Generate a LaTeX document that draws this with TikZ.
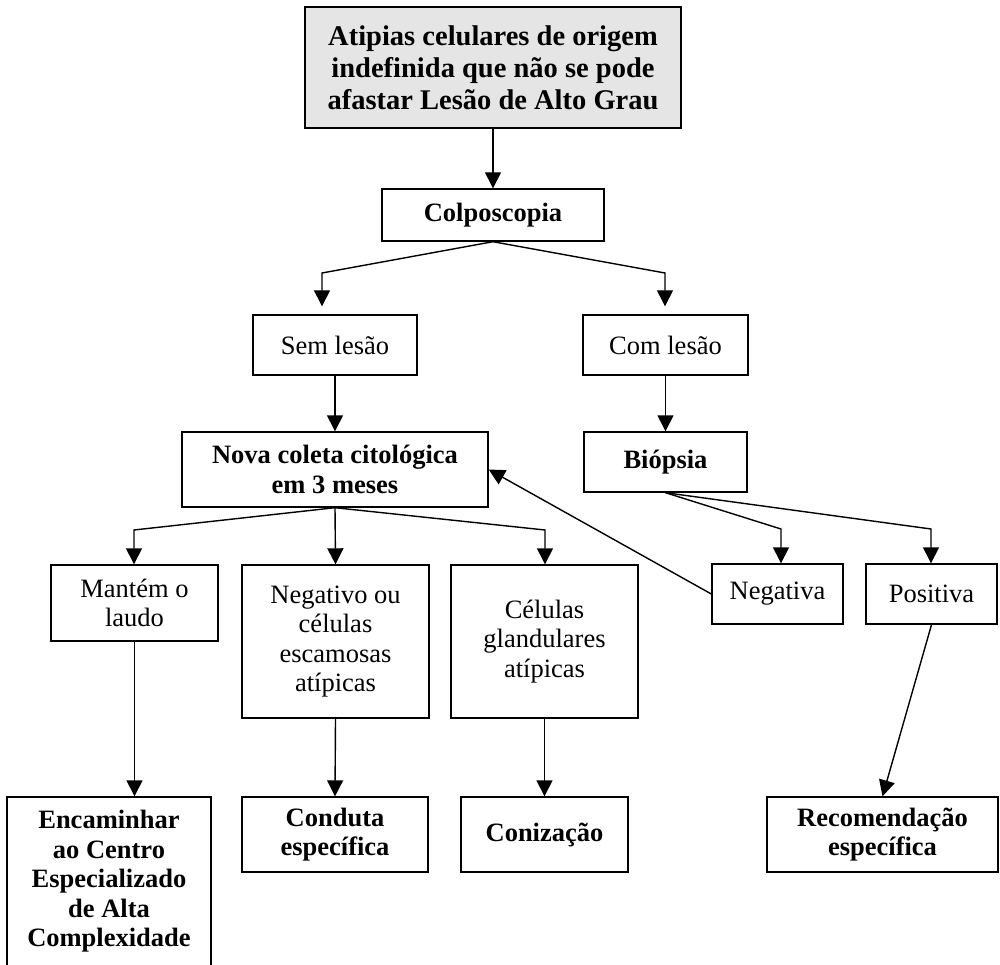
\documentclass[tikz,border=0pt]{standalone}
\usepackage{fontspec}
\setmainfont{Liberation Serif}
\usetikzlibrary{arrows.meta}

\tikzset{
  box/.style={draw, line width=1.4pt, inner sep=0pt, align=center,
              font=\fontsize{26.5}{29.5}\selectfont},
  boldbox/.style={box, font=\fontsize{26.5}{29.5}\selectfont\bfseries},
  link/.style={line width=1.4pt, line join=miter},
  arr/.style={link, -{Triangle[length=16pt,width=16pt]}}
}

\begin{document}
\begin{tikzpicture}[x=1pt, y=-1pt]
\useasboundingbox (0,0) rectangle (1000,965);
\clip (0,0) rectangle (1000,965);

% boxes
\node[boldbox, fill=black!10, minimum width=376, minimum height=121,
      font=\fontsize{28.5}{32}\selectfont\bfseries] (top) at (493,67.5)
  {Atipias celulares de origem\\indefinida que não se pode\\afastar Lesão de Alto Grau};
\node[boldbox, minimum width=222, minimum height=52] (colp) at (493,215) {Colposcopia};
\node[box, minimum width=164, minimum height=60] (sem) at (335,345) {Sem lesão};
\node[box, minimum width=165, minimum height=60] (com) at (665.5,345) {Com lesão};
\node[boldbox, minimum width=306, minimum height=75] (nova) at (335,469.5)
  {Nova coleta citológica\\em 3 meses};
\node[boldbox, minimum width=163, minimum height=60] (bio) at (665.5,462) {Biópsia};
\node[box, minimum width=167, minimum height=76] (mant) at (134.5,603) {Mantém o\\laudo};
\node[box, minimum width=187, minimum height=153] (negt) at (335.5,641.5)
  {Negativo ou\\células\\escamosas\\atípicas};
\node[box, minimum width=187, minimum height=153] (cel) at (544.5,641.5)
  {Células\\glandulares\\atípicas};
\node[box, minimum width=131, minimum height=60] (nega) at (777.5,594) {Negativa};
\node[box, minimum width=131, minimum height=60] (posi) at (931.5,594) {Positiva};
\node[boldbox, minimum width=204, minimum height=169] (enc) at (109,881.5)
  {Encaminhar\\ao Centro\\Especializado\\de Alta\\Complexidade};
\node[boldbox, minimum width=186, minimum height=75] (cond) at (335,834.5)
  {Conduta\\específica};
\node[boldbox, minimum width=167, minimum height=75] (coni) at (544.5,834.5) {Conização};
\node[boldbox, minimum width=231, minimum height=75] (reco) at (882.5,834.5)
  {Recomendação\\específica};

% bend points of the branching connectors
\coordinate (cL) at (322,273);
\coordinate (cR) at (665,273);
\coordinate (bN) at (781,529);
\coordinate (bP) at (931,529);
\coordinate (nL) at (134,530);
\coordinate (nR) at (545,530);

% connectors
\draw[arr] (top.south) -- (colp.north);
\draw[arr, shorten >=8pt] (colp.south) -- (cL) -- (cL |- sem.north);
\draw[arr, shorten >=8pt] (colp.south) -- (cR) -- (cR |- com.north);
\draw[arr] (sem.south) -- (nova.north);
\draw[arr] (com.south) -- (bio.north);
\draw[arr] (bio.south) -- (bN) -- (bN |- nega.north);
\draw[arr] (bio.south) -- (bP) -- (bP |- posi.north);
\draw[arr] (nega.west) -- (nova.east);
\draw[arr] (nova.south) -- (nL) -- (nL |- mant.north);
\draw[arr] (nova.south) -- (negt.north);
\draw[arr] (nova.south) -- (nR) -- (nR |- cel.north);
\draw[arr] (mant.south) -- (mant.south |- enc.north);
\draw[arr] (negt.south) -- (cond.north);
\draw[arr] (cel.south) -- (coni.north);
\draw[arr] (posi.south) -- (reco.north);
\end{tikzpicture}
\end{document}
